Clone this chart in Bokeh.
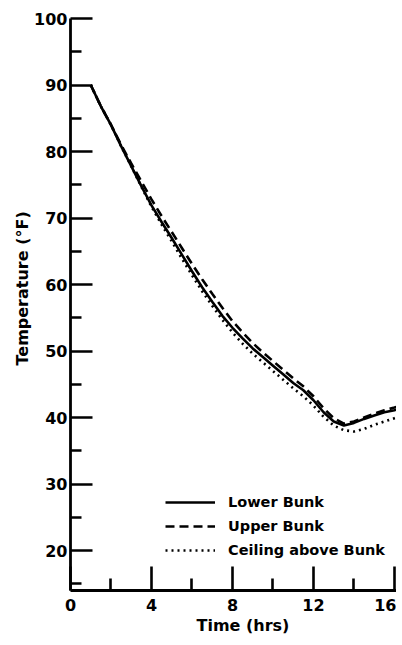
from bokeh.plotting import figure
from bokeh.models import FixedTicker, Legend, LegendItem, Title, Range1d
from bokeh.embed import file_html
from bokeh.resources import INLINE

# Time (hrs)
time_hrs = [1.0, 1.5, 2.0, 2.5, 3.0, 3.5, 4.0, 4.5, 5.0, 5.5, 6.0, 6.5, 7.0, 7.5,
            8.0, 8.5, 9.0, 9.5, 10.0, 10.5, 11.0, 11.5, 12.0, 12.5, 13.0, 13.5,
            14.0, 14.5, 15.0, 15.5, 16.0, 16.1]
# Temperature (°F)
lower_bunk = [90.0, 86.8, 84.0, 80.8, 77.8, 74.8, 71.9, 69.4, 67.0, 64.5, 62.0, 59.6,
              57.4, 55.3, 53.5, 51.9, 50.4, 49.1, 47.8, 46.5, 45.2, 44.1, 42.6, 40.8,
              39.4, 38.8, 39.2, 39.8, 40.3, 40.8, 41.1, 41.2]
upper_bunk = [90.0, 86.8, 84.0, 81.0, 78.2, 75.5, 72.8, 70.3, 67.9, 65.5, 63.1, 60.8,
              58.6, 56.5, 54.5, 52.8, 51.2, 49.8, 48.5, 47.2, 45.9, 44.7, 43.2, 41.4,
              39.9, 39.1, 39.4, 40.0, 40.6, 41.1, 41.5, 41.6]
ceiling = [90.0, 86.8, 84.0, 80.8, 77.8, 74.7, 71.7, 69.0, 66.5, 63.9, 61.4, 59.0,
           56.8, 54.7, 52.8, 51.1, 49.6, 48.3, 47.0, 45.7, 44.4, 43.2, 41.8, 40.1,
           38.8, 38.1, 37.9, 38.3, 38.9, 39.4, 39.9, 40.0]

series_names = ["Lower Bunk", "Upper Bunk", "Ceiling above Bunk"]
x_ticks = [0, 4, 8, 12, 16]
x_minor = [2, 6, 10, 14]
y_ticks = [20, 30, 40, 50, 60, 70, 80, 90, 100]
y_minor = [15, 25, 35, 45, 55, 65, 75, 85, 95]
x_title = "Time (hrs)"
y_title = "Temperature (°F)"

FONT = "DejaVu Sans"

p = figure(width=396, height=637, output_backend="svg", toolbar_location=None,
           x_range=Range1d(0, 16.1), y_range=Range1d(14, 100),
           min_border_left=70, min_border_right=0, min_border_top=18,
           min_border_bottom=47)
p.outline_line_color = None
p.grid.visible = False
p.background_fill_color = "white"
p.border_fill_color = "white"

r1 = p.line(time_hrs, lower_bunk, line_color="black", line_width=2.6)
r2 = p.line(time_hrs, upper_bunk, line_color="black", line_width=2.6, line_dash="9 5")
r3 = p.line(time_hrs, ceiling, line_color="black", line_width=2.6, line_dash="2 4")

for ax in (p.xaxis[0], p.yaxis[0]):
    ax.axis_line_width = 2.8
    ax.axis_line_color = "black"
    ax.major_tick_line_width = 2.6
    ax.minor_tick_line_width = 2.6
    ax.major_tick_line_color = "black"
    ax.minor_tick_line_color = "black"
    ax.major_tick_out = 0
    ax.minor_tick_out = 0
    ax.major_label_text_font = FONT
    ax.major_label_text_font_style = "bold"
    ax.major_label_text_font_size = "16px"
    ax.major_label_text_color = "black"

p.xaxis[0].ticker = FixedTicker(ticks=x_ticks, minor_ticks=x_minor)
p.yaxis[0].ticker = FixedTicker(ticks=y_ticks, minor_ticks=y_minor)
p.xaxis[0].major_tick_in = 24
p.xaxis[0].minor_tick_in = 12
p.yaxis[0].major_tick_in = 22
p.yaxis[0].minor_tick_in = 11
p.xaxis[0].major_label_standoff = 8
p.yaxis[0].major_label_standoff = 3

p.add_layout(Title(text=x_title, align="left", offset=126, standoff=0,
                   text_font=FONT, text_font_style="bold",
                   text_font_size="16px", text_color="black"), "below")
p.add_layout(Title(text=y_title, align="left", offset=225, standoff=0,
                   text_font=FONT, text_font_style="bold",
                   text_font_size="16px", text_color="black"), "left")

legend = Legend(items=[LegendItem(label=series_names[0], renderers=[r1]),
                       LegendItem(label=series_names[1], renderers=[r2]),
                       LegendItem(label=series_names[2], renderers=[r3])],
                location=(95, 30), orientation="vertical",
                glyph_width=50, glyph_height=20, label_height=20,
                label_standoff=13, spacing=4, padding=0, margin=0,
                border_line_color=None, background_fill_alpha=0,
                label_text_font=FONT, label_text_font_style="bold",
                label_text_font_size="14.5px", label_text_color="black")
p.add_layout(legend)

open("out.html", "w").write(file_html(p, INLINE))
